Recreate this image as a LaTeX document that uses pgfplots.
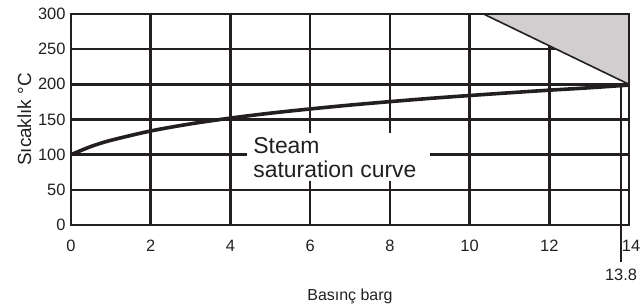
\documentclass[border=0pt]{standalone}
\usepackage{fontspec}
\setmainfont{Liberation Sans}
\usepackage{pgfplots}
\pgfplotsset{compat=1.18}
\definecolor{shade}{HTML}{D0CECE}
\definecolor{ink}{HTML}{231F20}
\begin{document}
\begin{tikzpicture}
\begin{axis}[
  scale only axis, width=558bp, height=211bp,
  xmin=0, xmax=14, ymin=0, ymax=300,
  xtick={0,2,...,12}, ytick={0,50,...,300},
  extra x ticks={14}, extra x tick labels={14},
  extra x tick style={xticklabel style={xshift=2bp}},
  grid=major,
  major grid style={ink, line width=2.6bp},
  axis line style={ink, line width=2.6bp},
  major tick length=0pt,
  tick label style={font=\fontsize{16.5}{19}\selectfont, text=ink},
  xticklabel style={yshift=-12bp},
  yticklabel style={xshift=-2bp},
  /pgf/number format/assume math mode=true,
  xlabel={Basınç barg}, ylabel={Sıcaklık °C},
  xlabel style={font=\fontsize{16}{19}\selectfont, text=ink, yshift=-30bp},
  ylabel style={font=\fontsize{19}{21}\selectfont, text=ink, yshift=0bp},
  clip=false,
]
% shaded triangle
\addplot[fill=shade, draw=ink, line width=1.6bp] coordinates {(10.35,300) (14,300) (14,200) (10.35,300)};
% white label box
\fill[white] (axis cs:4.42,62) rectangle (axis cs:9.0,131);
% 13.8 line
\draw[ink, line width=2.6bp] (axis cs:13.8,-52) -- (axis cs:13.8,200);
\node[font=\fontsize{16.5}{19}\selectfont, text=ink, anchor=north] at (axis cs:13.8,-57) {13.8};
% saturation curve
\addplot[ink, line width=3.6bp, smooth] coordinates {
(0,100) (0.5,111.6) (1,120.4) (2,133.7) (3,143.8) (4,152) (5,159) (6,165)
(7,170.5) (8,175.4) (9,180) (10,184.1) (11,188) (12,191.7) (13,195.1) (14,199)};
\node[font=\fontsize{23}{24}\selectfont, text=ink, anchor=north west, align=left, inner sep=0pt] at (axis cs:4.57,125) {Steam\\saturation curve};
\end{axis}
\pgfresetboundingbox
\path (-71bp,-82bp) rectangle (571bp,225bp);
\end{tikzpicture}
\end{document}
